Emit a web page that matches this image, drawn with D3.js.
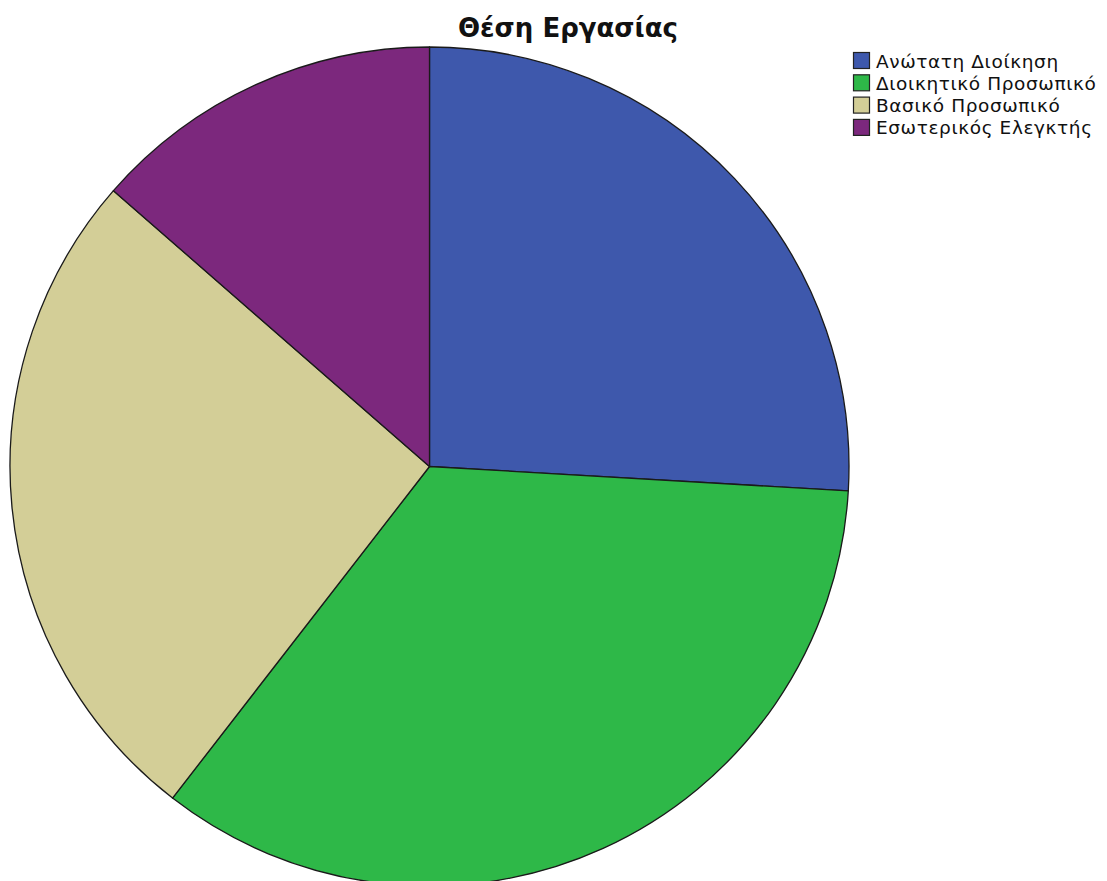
<!DOCTYPE html>
<html>
<head>
<meta charset="utf-8">
<script src="https://cdn.jsdelivr.net/npm/d3@7"></script>
<style>
  html, body { margin: 0; padding: 0; background: #fff; }
  svg { display: block; }
</style>
</head>
<body>
<svg id="chart" width="1107" height="881"></svg>
<script>
// Job position of respondents (counts)
const categories = ["Ανώτατη Διοίκηση", "Διοικητικό Προσωπικό", "Βασικό Προσωπικό", "Εσωτερικός Ελεγκτής"];
const counts = [21, 28, 21, 11];
const colors = ["#3e58ac", "#2eb848", "#d3ce97", "#7c287d"];
const title = "Θέση Εργασίας";

const svg = d3.select("#chart");
const cx = 429.5, cy = 466.5, radius = 419.5;

svg.append("text")
  .attr("x", 568).attr("y", 37)
  .attr("text-anchor", "middle")
  .attr("font-family", "DejaVu Sans")
  .attr("font-weight", "bold")
  .attr("font-size", 26)
  .attr("fill", "#111")
  .text(title);

const pie = d3.pie().sort(null).value(d => d)(counts);
const arc = d3.arc().innerRadius(0).outerRadius(radius);
const color = d3.scaleOrdinal().domain(categories).range(colors);

svg.append("g")
  .attr("transform", `translate(${cx},${cy})`)
  .selectAll("path")
  .data(pie)
  .join("path")
  .attr("d", arc)
  .attr("fill", (d, i) => color(categories[i]))
  .attr("stroke", "#1a1a1a")
  .attr("stroke-width", 1.3)
  .attr("stroke-linejoin", "round");

const legend = svg.append("g").attr("transform", "translate(853,52)");
const rows = legend.selectAll("g")
  .data(categories)
  .join("g")
  .attr("transform", (d, i) => `translate(0,${i * 22.3})`);
rows.append("rect")
  .attr("x", 0.5).attr("y", 0.5)
  .attr("width", 16).attr("height", 16)
  .attr("fill", d => color(d))
  .attr("stroke", "#222")
  .attr("stroke-width", 1.2);
rows.append("text")
  .attr("x", 23).attr("y", 15.5)
  .attr("font-family", "DejaVu Sans")
  .attr("font-size", 18.5)
  .attr("letter-spacing", 0.6)
  .attr("fill", "#111")
  .text(d => d);
</script>
</body>
</html>
